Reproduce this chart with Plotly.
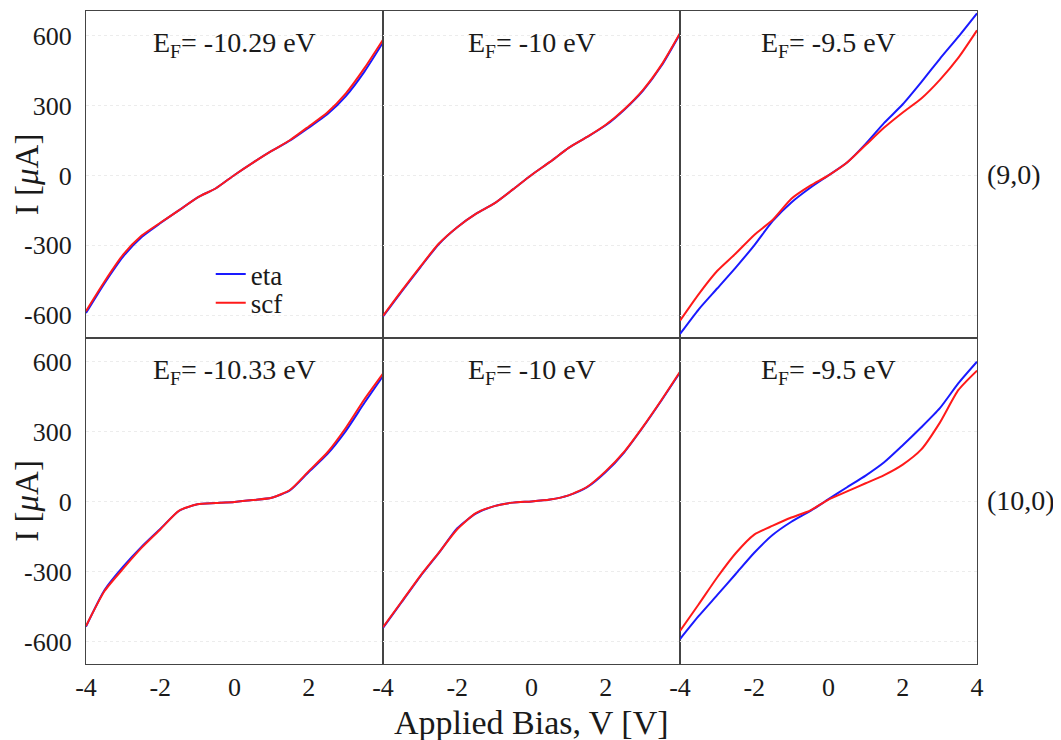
import plotly.graph_objects as go
from plotly.subplots import make_subplots

V = [-4, -3.5, -3, -2.5, -2, -1.5, -1, -0.5, 0, 0.5, 1, 1.5, 2, 2.5, 3, 3.5, 4]

# (9,0) tube
eta_9_a = [-590, -462, -348, -264, -205, -150, -95, -55, 2, 55, 105, 150, 205, 262, 340, 445, 570]
scf_9_a = [-582, -455, -340, -258, -203, -150, -95, -55, 2, 55, 105, 152, 210, 270, 352, 460, 582]
eta_9_b = [-605, -498, -395, -295, -222, -165, -120, -60, 2, 58, 118, 165, 215, 282, 363, 470, 607]
scf_9_b = [-602, -495, -392, -293, -222, -165, -120, -60, 2, 58, 118, 165, 217, 284, 366, 474, 610]
eta_9_c = [-680, -575, -485, -395, -300, -195, -116, -54, 0, 55, 135, 225, 305, 400, 500, 595, 695]
scf_9_c = [-623, -510, -410, -335, -255, -190, -100, -45, 0, 55, 130, 205, 270, 330, 410, 505, 622]

# (10,0) tube
eta_10_a = [-535, -378, -278, -192, -116, -39, -10, -5, 0, 8, 18, 50, 128, 205, 305, 425, 540]
scf_10_a = [-532, -382, -286, -196, -118, -38, -10, -5, 0, 8, 18, 52, 132, 212, 318, 440, 550]
eta_10_b = [-540, -430, -320, -220, -113, -50, -18, -3, 2, 10, 28, 63, 128, 213, 320, 435, 555]
scf_10_b = [-537, -428, -318, -218, -117, -48, -18, -3, 2, 10, 28, 65, 132, 216, 322, 437, 558]
eta_10_c = [-588, -490, -400, -309, -218, -141, -85, -40, 12, 63, 113, 170, 243, 320, 402, 509, 601]
scf_10_c = [-553, -440, -324, -220, -140, -102, -67, -37, 10, 45, 80, 115, 160, 225, 340, 480, 563]

panel_labels = ["E<sub>F</sub>= -10.29 eV", "E<sub>F</sub>= -10 eV", "E<sub>F</sub>= -9.5 eV",
                "E<sub>F</sub>= -10.33 eV", "E<sub>F</sub>= -10 eV", "E<sub>F</sub>= -9.5 eV"]
row_labels = ["(9,0)", "(10,0)"]
x_ticks = [-4, -2, 0, 2, 4]
x_tick_text = ["-4", "-2", "0", "2", "4"]
y_ticks = [-600, -300, 0, 300, 600]
y_tick_text = ["-600", "-300", "0", "300", "600"]

eta_sets = [eta_9_a, eta_9_b, eta_9_c, eta_10_a, eta_10_b, eta_10_c]
scf_sets = [scf_9_a, scf_9_b, scf_9_c, scf_10_a, scf_10_b, scf_10_c]

FONT = "Liberation Serif, Times New Roman, serif"
BLUE = "#1a1aff"
RED = "#ff1a1a"
TXT = "#1a1a1a"

fig = make_subplots(rows=2, cols=3, horizontal_spacing=0, vertical_spacing=0)

for i in range(6):
    r, c = i // 3 + 1, i % 3 + 1
    fig.add_trace(go.Scatter(x=V, y=eta_sets[i], mode="lines", name="eta",
                             line=dict(color=BLUE, width=2, shape="spline", smoothing=0.6),
                             showlegend=(i == 0), legend="legend"), row=r, col=c)
    fig.add_trace(go.Scatter(x=V, y=scf_sets[i], mode="lines", name="scf",
                             line=dict(color=RED, width=2, shape="spline", smoothing=0.6),
                             showlegend=(i == 0), legend="legend2"), row=r, col=c)
    n = 5 if c == 3 else 4
    fig.update_xaxes(range=[-4, 4], tickvals=x_ticks[:n], ticktext=x_tick_text[:n],
                     showticklabels=(r == 2), automargin=False,
                     showline=True, mirror=True, linecolor="#444", linewidth=1.3,
                     showgrid=False, zeroline=False, ticks="", ticklabelstandoff=0,
                     tickfont=dict(family=FONT, size=26, color=TXT),
                     row=r, col=c)
    fig.update_yaxes(range=[-695, 705], tickvals=y_ticks, ticktext=y_tick_text,
                     showticklabels=(c == 1), automargin=False,
                     showline=True, mirror=True, linecolor="#444", linewidth=1.3,
                     showgrid=True, gridcolor="#ececec", griddash="dot", gridwidth=1,
                     zeroline=False, ticks="", ticklabelstandoff=8,
                     tickfont=dict(family=FONT, size=26, color=TXT),
                     row=r, col=c)
    xref = "x domain" if i == 0 else f"x{i+1} domain"
    yref = "y domain" if i == 0 else f"y{i+1} domain"
    fig.add_annotation(text=panel_labels[i], xref=xref, yref=yref, x=0.5, y=1,
                       yshift=-14, yanchor="top", xanchor="center", showarrow=False,
                       font=dict(family=FONT, size=28, color=TXT))

for k, lab in enumerate(row_labels):
    yy = 0.75 if k == 0 else 0.25
    fig.add_annotation(text=lab, xref="paper", yref="paper", x=1, xshift=8, xanchor="left",
                       y=yy, yanchor="middle", showarrow=False,
                       font=dict(family=FONT, size=28, color=TXT))
    fig.add_annotation(text="I [<i>μ</i>A]", xref="paper", yref="paper", x=0, xshift=-59,
                       xanchor="center", y=yy, yanchor="middle", textangle=-90, showarrow=False,
                       font=dict(family=FONT, size=33, color=TXT))

fig.add_annotation(text="Applied Bias, V [V]", xref="paper", yref="paper", x=0.5, y=0,
                   yshift=-38, yanchor="top", xanchor="center", showarrow=False,
                   font=dict(family=FONT, size=34, color=TXT))

leg_common = dict(xanchor="left", yanchor="top", bgcolor="rgba(0,0,0,0)",
                  font=dict(family=FONT, size=27, color=TXT), itemwidth=30)

# page has an 8px body margin; compensate with a slightly smaller figure
fig.update_layout(
    width=1053, height=732,
    margin=dict(l=78, r=84, t=3, b=76),
    paper_bgcolor="white", plot_bgcolor="white",
    font=dict(family=FONT, color=TXT),
    legend=dict(x=0.140, y=0.634, **leg_common),
    legend2=dict(x=0.140, y=0.590, **leg_common),
)

fig.write_html("out.html")
